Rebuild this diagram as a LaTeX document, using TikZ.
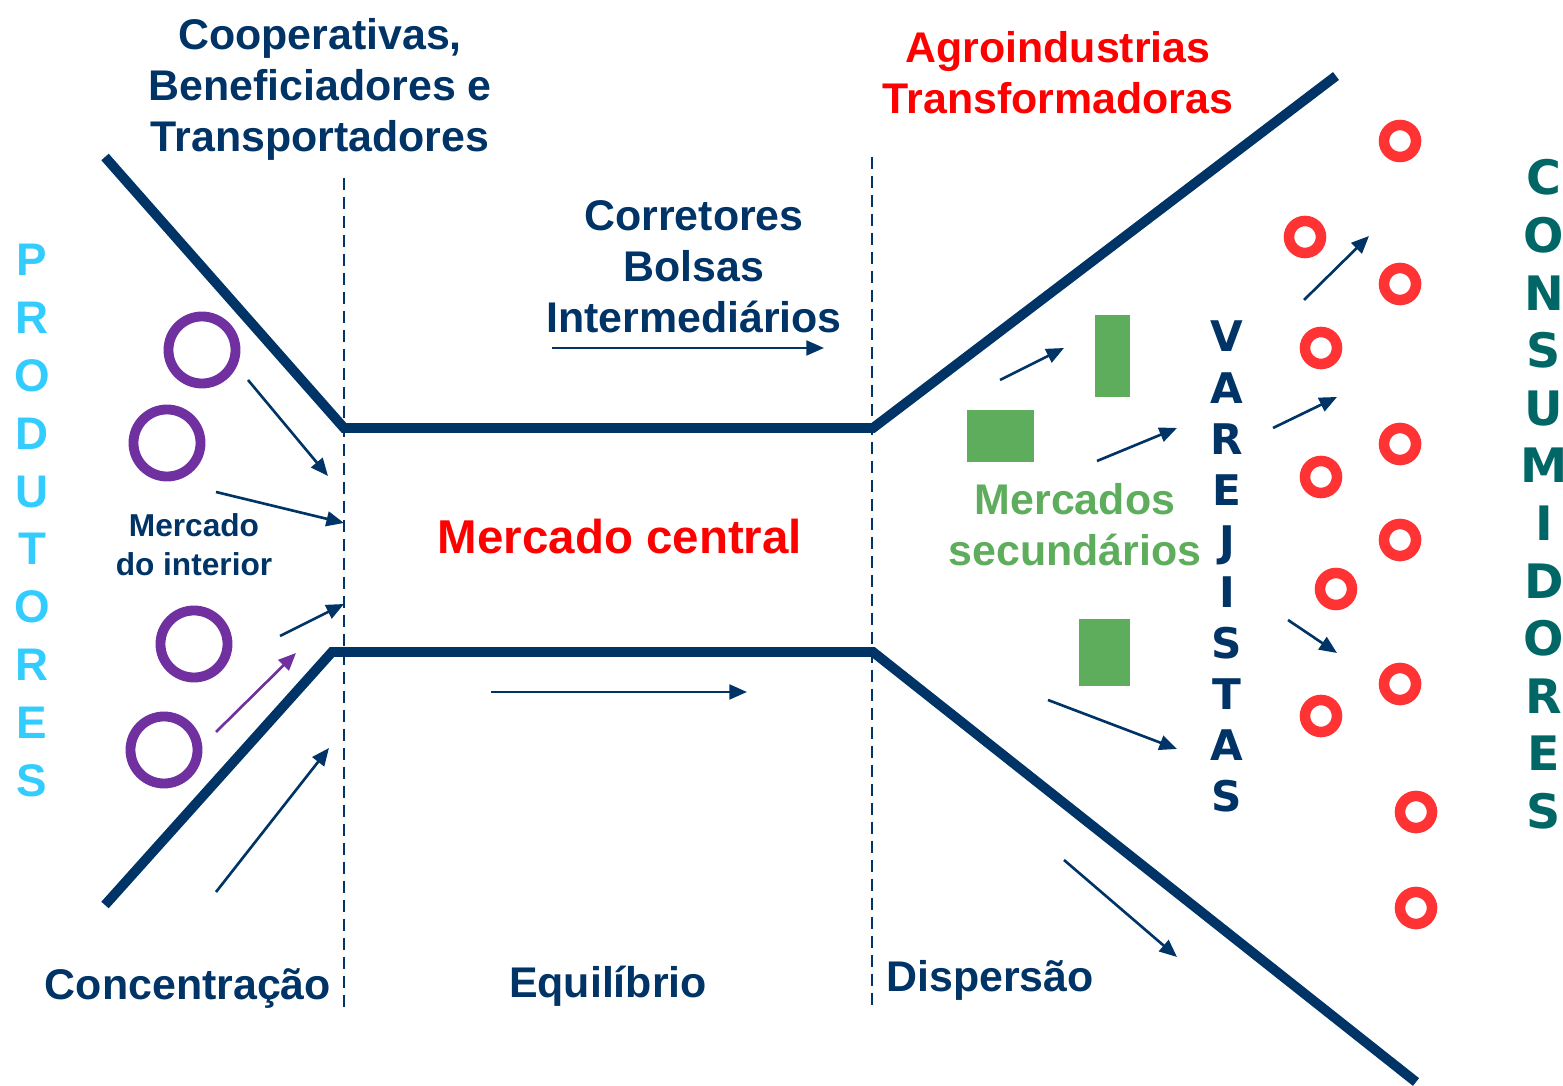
\documentclass[tikz,border=0pt]{standalone}
\usepackage{fontspec}
\setmainfont{Liberation Sans}
\newfontfamily\verdana{DejaVu Sans}
\usepackage{xcolor}
\usetikzlibrary{arrows.meta}
\definecolor{azul}{RGB}{0,51,102}
\definecolor{roxo}{RGB}{112,48,160}
\definecolor{verde}{RGB}{93,173,92}
\definecolor{celeste}{RGB}{51,204,255}
\definecolor{petroleo}{RGB}{0,102,102}
\definecolor{vermelho}{RGB}{255,51,51}

\begin{document}
\begin{tikzpicture}[x=.01cm, y=-.01cm,
	funil/.style={azul, line width=2.8pt},
	divisa/.style={azul, line width=.8pt, dash pattern=on 3.5pt off 1.9pt},
	seta/.style={azul, line width=.75pt, -{Triangle[length=5pt, width=4.2pt]}},
	rotulo/.style={azul, font=\fontsize{12.2}{14.5}\selectfont\bfseries, align=center, inner sep=0pt},
	prod/.style={circle, draw=roxo, line width=2.8pt, minimum size=.67cm, inner sep=0pt},
	cons/.style={circle, draw=vermelho, line width=3pt, minimum size=.32cm, inner sep=0pt},
	bloco/.style={fill=verde, inner sep=0pt}]
	\useasboundingbox (0,0) rectangle (1563,1086);

	% funil
	\coordinate (f1) at (105,157); \coordinate (f2) at (344,428);
	\coordinate (f3) at (873,428); \coordinate (f4) at (1336,76);
	\coordinate (g1) at (105,905); \coordinate (g2) at (332,652);
	\coordinate (g3) at (873,652); \coordinate (g4) at (1416,1082);
	\draw[funil] (f1) -- (f2) -- (f3) -- (f4);
	\draw[funil] (g1) -- (g2) -- (g3) -- (g4);

	\coordinate (d1) at (344,178); \coordinate (d2) at (344,1010);
	\coordinate (d3) at (872,157); \coordinate (d4) at (872,1010);
	\draw[divisa] (d1) -- (d2);
	\draw[divisa] (d3) -- (d4);

	% textos
	\node[rotulo] (coop) at (320,89) {Cooperativas,\\Beneficiadores e\\Transportadores};
	\node[rotulo, red] (agro) at (1058,73) {Agroindustrias\\Transformadoras};
	\node[rotulo] (corr) at (694,267) {Corretores\\Bolsas\\Intermediários};
	\node[rotulo, red, font=\fontsize{13.5}{16}\selectfont\bfseries, anchor=base] (central) at (620,554) {Mercado central};
	\node[rotulo, font=\fontsize{9}{11}\selectfont\bfseries] (interior) at (194,545) {Mercado\\do interior};
	\node[rotulo, verde] (secund) at (1075,525) {Mercados\\secundários};
	\node[rotulo, anchor=base] (conc) at (188,1000) {Concentração};
	\node[rotulo, anchor=base] (equi) at (608,998) {Equilíbrio};
	\node[rotulo, anchor=base] (disp) at (990,992) {Dispersão};

	\foreach \l [count=\i] in {P,R,O,D,U,T,O,R,E,S}
		\node[celeste, font=\fontsize{13}{13}\selectfont\bfseries, anchor=base, inner sep=0pt] (p\i) at (32,{276+57.8*(\i-1)}) {\l};
	\foreach \l [count=\i] in {V,A,R,E,J,I,S,T,A,S}
		\node[azul, font=\verdana\fontsize{12}{12}\selectfont\bfseries, anchor=base, inner sep=0pt] (v\i) at (1227,{352+51.1*(\i-1)}) {\l};
	\foreach \l [count=\i] in {C,O,N,S,U,M,I,D,O,R,E,S}
		\node[petroleo, font=\verdana\fontsize{13.5}{13.5}\selectfont\bfseries, anchor=base, inner sep=0pt] (k\i) at (1544,{195+57.6*(\i-1)}) {\l};

	% produtores e consumidores
	\foreach \p [count=\i] in {(202,350),(167,443),(194,644),(164,750)}
		\node[prod] (pr\i) at \p {};
	\foreach \p [count=\i] in {(1400,141),(1305,237),(1400,284),(1321,348),(1400,444),(1321,477),(1400,540),(1336,589),(1400,684),(1321,716),(1416,812),(1416,908)}
		\node[cons] (c\i) at \p {};

	\node[bloco, minimum width=.67cm, minimum height=.51cm] (m1) at (1000.5,436) {};
	\node[bloco, minimum width=.35cm, minimum height=.82cm] (m2) at (1112.5,356) {};
	\node[bloco, minimum width=.51cm, minimum height=.66cm] (m3) at (1104.5,652.5) {};

	% setas
	\foreach \s/\e [count=\i] in {{248,380}/{328,476}, {216,492}/{344,523}, {280,636}/{344,604},
		{216,892}/{329,748}, {552,348}/{824,348}, {491,692}/{747,692}, {1000,380}/{1064,348},
		{1097,461}/{1177,428}, {1048,700}/{1177,749}, {1064,860}/{1177,957},
		{1304,300}/{1369,236}, {1273,428}/{1337,397}, {1288,620}/{1337,653}}{
		\coordinate (s\i) at (\s); \coordinate (e\i) at (\e);
		\draw[seta] (s\i) -- (e\i);
	}
	\coordinate (s0) at (216,732); \coordinate (e0) at (296,653);
	\draw[seta, roxo] (s0) -- (e0);
\end{tikzpicture}
\end{document}
